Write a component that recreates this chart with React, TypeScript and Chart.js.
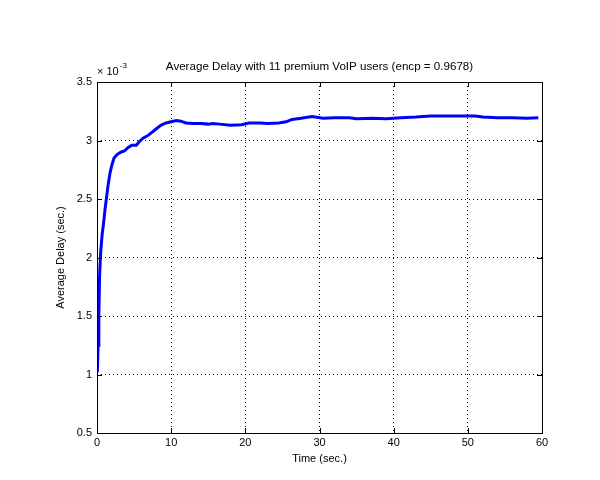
import React, { useEffect, useRef } from "react";
import { Chart, registerables } from "chart.js";

Chart.register(...registerables);

const titleText = "Average Delay with 11 premium VoIP users (encp = 0.9678)";
const xLabel = "Time (sec.)";
const yLabel = "Average Delay (sec.)";
const yExponent = "-3";

const xTicks = [0, 10, 20, 30, 40, 50, 60];
const yTicks = [0.5, 1, 1.5, 2, 2.5, 3, 3.5];

// time in seconds
const times = [
  0.05, 0.15, 0.25, 0.35, 0.5, 0.7, 0.9, 1.1, 1.3, 1.5, 1.75, 2.0, 2.3, 2.7, 3.2, 3.7, 4.2, 4.7,
  5.3, 5.7, 6.2, 6.8, 7.4, 8.0, 8.6, 9.3, 10.0, 10.7, 11.3, 12.0, 13.0, 14.0, 15.0, 15.6, 16.5,
  18.0, 19.5, 20.5, 22.0, 23.0, 24.5, 25.5, 26.3, 27.5, 29.0, 30.5, 32.0, 34.0, 35.0, 37.0, 39.0,
  40.0, 41.0, 43.0, 45.0, 48.0, 51.0, 52.0, 54.0, 56.0, 58.0, 59.5,
];
// average delay in units of 1e-3 sec
const delays = [
  1.02, 1.25, 1.5, 1.85, 2.05, 2.2, 2.3, 2.42, 2.52, 2.62, 2.72, 2.79, 2.85, 2.88, 2.9, 2.91, 2.94, 2.96,
  2.96, 2.99, 3.02, 3.04, 3.07, 3.1, 3.13, 3.15, 3.16, 3.17, 3.165, 3.15, 3.145, 3.145, 3.14, 3.145, 3.14,
  3.13, 3.135, 3.15, 3.15, 3.145, 3.15, 3.16, 3.18, 3.19, 3.205, 3.19, 3.195, 3.195, 3.185, 3.19, 3.185,
  3.19, 3.195, 3.2, 3.21, 3.21, 3.21, 3.2, 3.195, 3.195, 3.19, 3.195,
];

const FONT = '"Liberation Sans", Arial, sans-serif';

const decorPlugin = {
  id: "matlabDecor",
  afterDraw(chart: any) {
    const { ctx, chartArea } = chart;
    const { left, right, top, bottom } = chartArea;
    const xs = chart.scales.x;
    const ys = chart.scales.y;
    ctx.save();
    ctx.strokeStyle = "#000";
    ctx.lineWidth = 1;
    ctx.setLineDash([]);
    // ticks inward on all sides
    const tl = 5;
    ctx.beginPath();
    xTicks.forEach((t) => {
      const px = Math.round(xs.getPixelForValue(t)) + 0.5;
      ctx.moveTo(px, bottom);
      ctx.lineTo(px, bottom - tl);
      ctx.moveTo(px, top);
      ctx.lineTo(px, top + tl);
    });
    yTicks.forEach((t) => {
      const py = Math.round(ys.getPixelForValue(t)) + 0.5;
      ctx.moveTo(left, py);
      ctx.lineTo(left + tl, py);
      ctx.moveTo(right, py);
      ctx.lineTo(right - tl, py);
    });
    ctx.stroke();
    // box
    ctx.strokeRect(Math.round(left) + 0.5, Math.round(top) + 0.5, Math.round(right - left), Math.round(bottom - top));
    // title
    ctx.fillStyle = "#000";
    ctx.font = `11.6px ${FONT}`;
    ctx.textAlign = "center";
    ctx.textBaseline = "middle";
    ctx.fillText(titleText, (left + right) / 2, 67);
    // x label
    ctx.font = `11px ${FONT}`;
    ctx.fillText(xLabel, (left + right) / 2, 459);
    // y label
    ctx.save();
    ctx.translate(61, (top + bottom) / 2);
    ctx.rotate(-Math.PI / 2);
    ctx.fillText(yLabel, 0, 0);
    ctx.restore();
    // exponent
    ctx.textAlign = "left";
    ctx.textBaseline = "alphabetic";
    ctx.fillText("\u00d7 10", left, 75);
    const w = ctx.measureText("\u00d7 10").width;
    ctx.font = `8px ${FONT}`;
    ctx.fillText(yExponent, left + w + 1, 68);
    ctx.restore();
  },
};

export default function App() {
  const ref = useRef<HTMLCanvasElement | null>(null);
  useEffect(() => {
    if (!ref.current) return;
    const chart = new Chart(ref.current, {
      type: "line",
      data: {
        datasets: [
          {
            data: times.map((t, i) => ({ x: t, y: delays[i] })),
            borderColor: "rgb(0,0,255)",
            borderWidth: 3,
            pointRadius: 0,
            tension: 0,
            fill: false,
          },
        ],
      },
      options: {
        responsive: false,
        animation: false,
        events: [],
        layout: { padding: { left: 0, top: 82, right: 58, bottom: 0 } },
        plugins: { legend: { display: false }, tooltip: { enabled: false }, title: { display: false } },
        scales: {
          x: {
            type: "linear",
            min: 0,
            max: 60,
            afterFit: (s: any) => {
              s.height = 47;
            },
            afterBuildTicks: (s: any) => {
              s.ticks = xTicks.map((v) => ({ value: v }));
            },
            ticks: {
              color: "#000",
              font: { family: FONT, size: 11 },
              padding: 3,
              maxRotation: 0,
              autoSkip: false,
            },
            grid: {
              color: (c: any) => (c.tick && (c.tick.value === 0 || c.tick.value === 60) ? "rgba(0,0,0,0)" : "#000"),
              lineWidth: 1,
              drawTicks: false,
            },
            border: { display: false, dash: [1, 3] },
          },
          y: {
            type: "linear",
            min: 0.5,
            max: 3.5,
            afterFit: (s: any) => {
              s.width = 97;
            },
            afterBuildTicks: (s: any) => {
              s.ticks = yTicks.map((v) => ({ value: v }));
            },
            ticks: {
              color: "#000",
              font: { family: FONT, size: 11 },
              padding: 5,
              autoSkip: false,
              callback: (v: any) => String(v),
            },
            grid: {
              color: (c: any) => (c.tick && (c.tick.value === 0.5 || c.tick.value === 3.5) ? "rgba(0,0,0,0)" : "#000"),
              lineWidth: 1,
              drawTicks: false,
            },
            border: { display: false, dash: [1, 3] },
          },
        },
      },
      plugins: [decorPlugin],
    } as any);
    return () => chart.destroy();
  }, []);
  return (
    <div style={{ position: "fixed", left: 0, top: 0, width: 600, height: 480, background: "#fff" }}>
      <canvas ref={ref} width={600} height={480} style={{ display: "block" }} />
    </div>
  );
}
